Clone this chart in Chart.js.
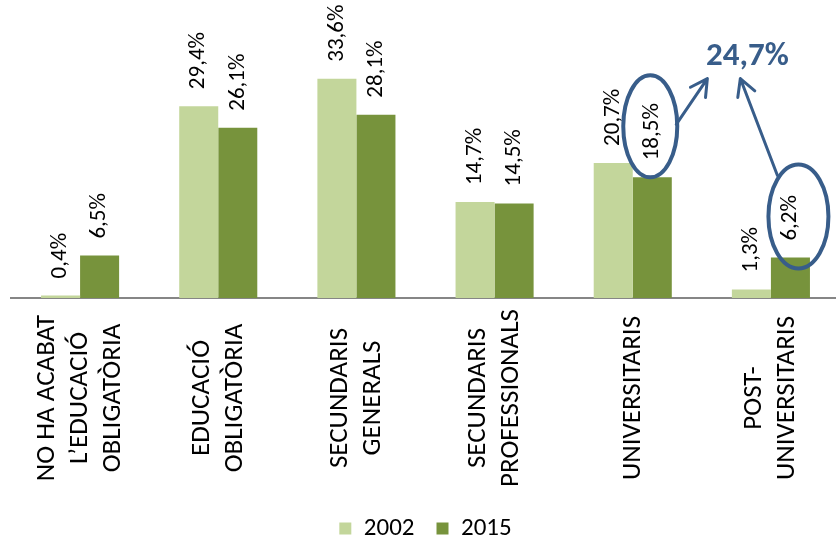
<!DOCTYPE html>
<html>
<head>
<meta charset="utf-8">
<script src="https://cdn.jsdelivr.net/npm/chart.js@4/dist/chart.umd.min.js"></script>
<style>
  html, body { margin: 0; padding: 0; background: #fff; overflow: hidden; }
  #wrap { width: 840px; height: 545px; }
</style>
</head>
<body>
<div id="wrap"><canvas id="myChart"></canvas></div>
<script>
const categories = [
    ['NO HA ACABAT', 'L\u2019EDUCACIÓ', 'OBLIGATÒRIA'],
    ['EDUCACIÓ', 'OBLIGATÒRIA'],
    ['SECUNDARIS', 'GENERALS'],
    ['SECUNDARIS', 'PROFESSIONALS'],
    ['UNIVERSITARIS'],
    ['POST-', 'UNIVERSITARIS']
];
const values2002 = [0.4, 29.4, 33.6, 14.7, 20.7, 1.3];
const values2015 = [6.5, 26.1, 28.1, 14.5, 18.5, 6.2];
const highlightTotal = 24.7;

const FONT = 'Carlito, "Liberation Sans Narrow", "DejaVu Sans Condensed", sans-serif';
const BLUE = '#385D8A';

const fmt = v => v.toFixed(1).replace('.', ',') + '%';

// rotated value labels over each bar
const barLabels = {
    id: 'barLabels',
    afterDatasetsDraw(chart) {
        const ctx = chart.ctx;
        ctx.save();
        ctx.font = '23px ' + FONT;
        ctx.fillStyle = '#000';
        ctx.textAlign = 'left';
        ctx.textBaseline = 'middle';
        chart.data.datasets.forEach((ds, i) => {
            chart.getDatasetMeta(i).data.forEach((bar, j) => {
                ctx.save();
                ctx.translate(bar.x, bar.y - 17);
                ctx.rotate(-Math.PI / 2);
                ctx.fillText(fmt(ds.data[j]), 0, 0);
                ctx.restore();
            });
        });
        ctx.restore();
    }
};

// category labels, rotated, lines centred on the tick
const catLabels = {
    id: 'catLabels',
    afterDraw(chart) {
        const ctx = chart.ctx;
        const xs = chart.scales.x;
        ctx.save();
        ctx.font = '27px ' + FONT;
        ctx.fillStyle = '#000';
        ctx.textAlign = 'center';
        ctx.textBaseline = 'middle';
        categories.forEach((lines, i) => {
            const cx = xs.getPixelForTick(i);
            lines.forEach((line, k) => {
                ctx.save();
                ctx.translate(cx + (k - (lines.length - 1) / 2) * 33, chart.chartArea.bottom + 100);
                ctx.rotate(-Math.PI / 2);
                ctx.fillText(line, 0, 0);
                ctx.restore();
            });
        });
        ctx.restore();
    }
};

function arrow(ctx, x1, y1, x2, y2) {
    const a = Math.atan2(y2 - y1, x2 - x1);
    const h = 19;
    ctx.beginPath();
    ctx.moveTo(x1, y1);
    ctx.lineTo(x2, y2);
    ctx.moveTo(x2 - h * Math.cos(a - 0.5), y2 - h * Math.sin(a - 0.5));
    ctx.lineTo(x2, y2);
    ctx.lineTo(x2 - h * Math.cos(a + 0.5), y2 - h * Math.sin(a + 0.5));
    ctx.stroke();
}

// circles + arrows pointing at the total
const callout = {
    id: 'callout',
    afterDraw(chart) {
        const ctx = chart.ctx;
        const bars = chart.getDatasetMeta(1).data;
        const b1 = bars[4], b2 = bars[5];
        const e1 = { x: b1.x - 2, y: b1.y - 51, rx: 27, ry: 51 };
        const e2 = { x: b2.x + 8, y: b2.y - 41, rx: 30, ry: 52 };
        const tx = (e1.x + e2.x) / 2 + 23;
        const ty = chart.scales.y.getPixelForValue(37.0);
        ctx.save();
        ctx.strokeStyle = BLUE;
        ctx.lineWidth = 4;
        ctx.lineCap = 'round';
        ctx.lineJoin = 'round';
        [e1, e2].forEach(e => {
            ctx.beginPath();
            ctx.ellipse(e.x, e.y, e.rx, e.ry, 0, 0, Math.PI * 2);
            ctx.stroke();
        });
        ctx.lineWidth = 3;
        arrow(ctx, e1.x + e1.rx - 1, e1.y - 2, tx - 40, ty + 22);
        arrow(ctx, e2.x - 21, e2.y - 41, tx - 7, ty + 22);
        ctx.fillStyle = BLUE;
        ctx.font = 'bold 33px ' + FONT;
        ctx.textAlign = 'center';
        ctx.textBaseline = 'middle';
        ctx.fillText(fmt(highlightTotal), tx, ty);
        ctx.restore();
    }
};

const ctx = document.getElementById('myChart').getContext('2d');
const myChart = new Chart(ctx, {
    type: 'bar',
    data: {
        labels: categories,
        datasets: [{
            label: '2002',
            data: values2002,
            backgroundColor: '#C3D69B'
        }, {
            label: '2015',
            data: values2015,
            backgroundColor: '#77933C'
        }]
    },
    options: {
        responsive: true,
        maintainAspectRatio: false,
        animation: false,
        categoryPercentage: 0.565,
        barPercentage: 1,
        layout: { padding: { left: 11, top: 37, right: 0, bottom: -6 } },
        plugins: {
            tooltip: { enabled: false },
            legend: {
                position: 'bottom',
                labels: {
                    boxWidth: 12,
                    boxHeight: 12,
                    padding: 22,
                    color: '#000',
                    font: { family: FONT, size: 25 }
                }
            }
        },
        scales: {
            x: {
                grid: { display: false },
                border: { display: true, color: '#868686', width: 2 },
                ticks: { display: false },
                afterFit: s => { s.height = 196; }
            },
            y: {
                display: false,
                min: 0,
                max: 40
            }
        }
    },
    plugins: [barLabels, catLabels, callout]
});
</script>
</body>
</html>
